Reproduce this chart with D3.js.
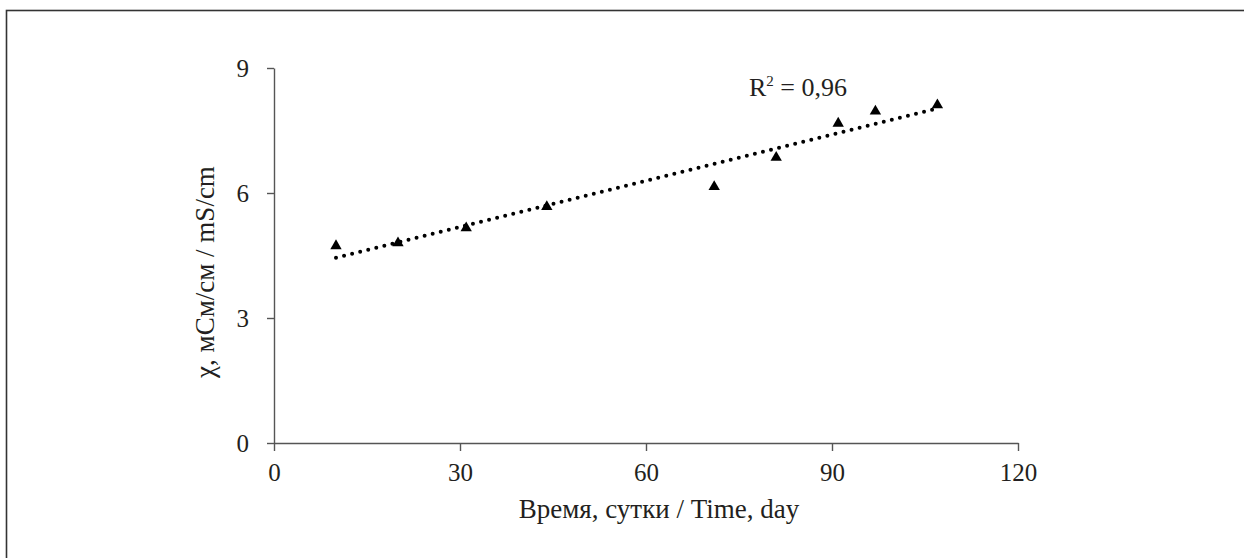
<!DOCTYPE html>
<html>
<head>
<meta charset="utf-8">
<script src="https://cdn.jsdelivr.net/npm/d3@7"></script>
<style>
  body { margin: 0; background: #fff; }
  svg text { font-family: "Liberation Serif", "Times New Roman", serif; fill: #231f20; }
</style>
</head>
<body>
<svg id="canvas" width="1244" height="558"></svg>
<script>
// measured conductivity over time
let days = [10, 20, 31, 44, 71, 81, 91, 97, 107]
let chi = [4.73, 4.8, 5.16, 5.67, 6.15, 6.85, 7.67, 7.96, 8.11]
let xTicks = [0, 30, 60, 90, 120]
let yTicks = [0, 3, 6, 9]
let r2Label = '0,96'

let canvas = d3.select('#canvas')

// frame around the figure
canvas.append('rect')
    .attr('x', 6.5).attr('y', 10.5)
    .attr('width', 1300).attr('height', 600)
    .attr('fill', 'none')
    .attr('stroke', '#333')
    .attr('stroke-width', 1.6)

let xScale = d3.scaleLinear().domain([0, 120]).range([274, 1018])
let yScale = d3.scaleLinear().domain([0, 9]).range([443, 68])

let xAxis = d3.axisBottom(xScale).tickValues(xTicks).tickSize(8).tickSizeOuter(0).tickPadding(12)
let yAxis = d3.axisLeft(yScale).tickValues(yTicks).tickSize(7).tickSizeOuter(0).tickPadding(18)

let gx = canvas.append('g').attr('transform', 'translate(0,443)').call(xAxis)
let gy = canvas.append('g').attr('transform', 'translate(274,0)').call(yAxis)

;[gx, gy].forEach(g => {
    g.select('.domain').attr('stroke', '#555').attr('stroke-width', 1.4)
    g.selectAll('.tick line').attr('stroke', '#555').attr('stroke-width', 1.4)
    g.selectAll('.tick text')
        .style('font-family', '"Liberation Serif", serif')
        .style('font-size', '25px')
        .attr('fill', '#231f20')
})
gy.selectAll('.tick text').attr('dy', '0.34em')

// least squares trend line
let mx = d3.mean(days)
let my = d3.mean(chi)
let sxy = d3.sum(days, (d, i) => (d - mx) * (chi[i] - my))
let sxx = d3.sum(days, d => (d - mx) * (d - mx))
let slope = sxy / sxx
let icpt = my - slope * mx
let xMin = d3.min(days), xMax = d3.max(days)

canvas.append('line')
    .attr('x1', xScale(xMin)).attr('y1', yScale(icpt + slope * xMin))
    .attr('x2', xScale(xMax)).attr('y2', yScale(icpt + slope * xMax))
    .attr('stroke', '#000')
    .attr('stroke-width', 4)
    .attr('stroke-linecap', 'round')
    .attr('stroke-dasharray', '0 8.3')

let tri = d3.symbol().type(d3.symbolTriangle).size(56)
canvas.selectAll('.pt')
    .data(days)
    .enter()
    .append('path')
    .attr('class', 'pt')
    .attr('d', tri)
    .attr('transform', (d, i) => 'translate(' + xScale(d) + ',' + yScale(chi[i]) + ')')
    .attr('fill', '#000')

let r2 = canvas.append('text')
    .attr('x', 749).attr('y', 96)
    .style('font-size', '26px')
r2.append('tspan').text('R')
r2.append('tspan').text('2').style('font-size', '15px').attr('dy', -10)
r2.append('tspan').text(' = ' + r2Label).attr('dy', 10)

canvas.append('text')
    .attr('x', 659).attr('y', 518)
    .attr('text-anchor', 'middle')
    .style('font-size', '27px')
    .text('Время, сутки / Time, day')

canvas.append('text')
    .attr('transform', 'translate(214,272) rotate(-90)')
    .attr('text-anchor', 'middle')
    .style('font-size', '27px')
    .text('χ, мСм/см / mS/cm')
</script>
</body>
</html>
